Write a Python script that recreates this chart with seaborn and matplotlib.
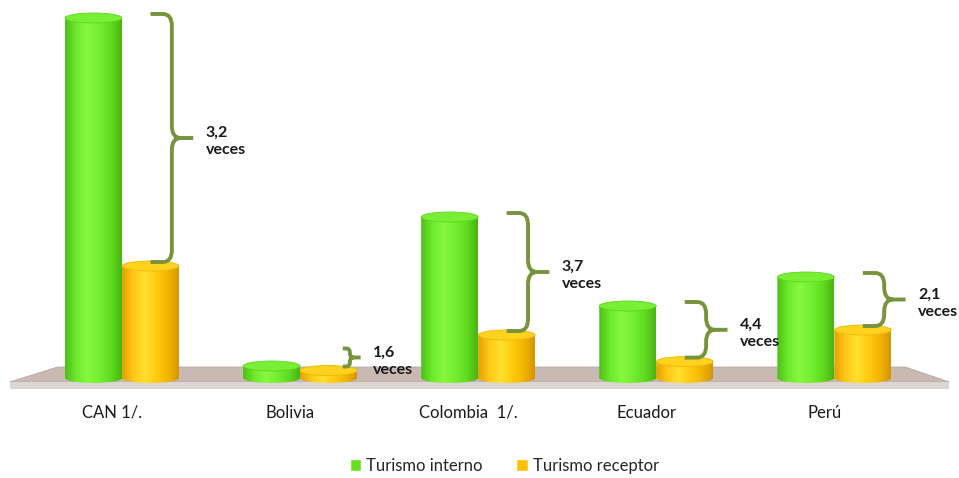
import matplotlib
matplotlib.use("Agg")
import matplotlib.pyplot as plt
import matplotlib.transforms as mtransforms
from matplotlib.patches import Ellipse, Polygon, PathPatch, Patch
from matplotlib.path import Path
from matplotlib.colors import LinearSegmentedColormap, to_hex
import seaborn as sns
import numpy as np
import pandas as pd

# values (arbitrary units, ratios match the labels)
paises = ["CAN 1/.", "Bolivia", "Colombia  1/.", "Ecuador", "Perú"]
interno = [360, 12, 161, 72, 101]
receptor = [112, 7.5, 43, 16.4, 48]
veces = ["3,2", "1,6", "3,7", "4,4", "2,1"]
series = ["Turismo interno", "Turismo receptor"]

verde = "#66e01e"
naranja = "#ffc000"
llave = "#77933C"

df = pd.DataFrame({
    "pais": paises * 2,
    "valor": interno + receptor,
    "serie": [series[0]] * len(paises) + [series[1]] * len(paises),
})

sns.set_style("white")
plt.rcParams["font.family"] = ["Lato", "DejaVu Sans"]

fig = plt.figure(figsize=(9.59, 4.78), dpi=100)
ax = fig.add_axes([0, 1 - 392 / 478, 1, 392 / 478])

sns.barplot(data=df, x="pais", y="valor", hue="serie", palette=[verde, naranja],
            width=0.64, saturation=1, legend=False, ax=ax, zorder=3)
bars = list(ax.patches)

ax.set_ylim(-14, 378)
ax.set_xlim(-0.685, 4.70)
sns.despine(ax=ax, left=True, bottom=True)
ax.set_yticks([])
ax.set_xlabel("")
ax.set_ylabel("")
ax.tick_params(axis="x", length=0, pad=9, labelsize=12, colors="#1a1a1a")
shift = mtransforms.ScaledTranslation(-10 / 100, 0, fig.dpi_scale_trans)
for lab in ax.get_xticklabels():
    lab.set_transform(lab.get_transform() + shift)

# floor (top face + thin front face)
piso = mtransforms.blended_transform_factory(ax.transAxes, ax.transData)
ax.add_patch(Polygon([(0.06, 11), (0.944, 11), (0.99, -4), (0.01, -4)],
                     closed=True, transform=piso, facecolor="#C8B9B3",
                     edgecolor="#B8A9A3", lw=0.6, zorder=1))
ax.add_patch(Polygon([(0.01, -4), (0.99, -4), (0.99, -11), (0.01, -11)],
                     closed=True, transform=piso, facecolor="#DCD6D3",
                     edgecolor="none", zorder=1))

# cylinder look
gradientes = {
    verde: (LinearSegmentedColormap.from_list(
        "v", ["#4CBE18", "#6EEA2C", "#86F840", "#74EE30", "#62DC20", "#48B412"]), "#78EE34"),
    naranja: (LinearSegmentedColormap.from_list(
        "n", ["#E0A200", "#FFC818", "#FFE030", "#FFCC10", "#F4B600", "#D49400"]), "#FFD21E"),
}
eh = 10  # ellipse height in data units
grad = np.linspace(0, 1, 256).reshape(1, -1)
for bar in bars:
    x, w, h = bar.get_x(), bar.get_width(), bar.get_height()
    col = to_hex(bar.get_facecolor()).lower()
    cmap, tapa = gradientes[col]
    arc = Path.arc(180, 360)
    av = arc.vertices * [w / 2, eh / 2] + [x + w / 2, 0]
    verts = [(x, h), (x, 0)] + list(av[1:]) + [(x + w, h), (x, h)]
    codes = [Path.MOVETO, Path.LINETO] + list(arc.codes[1:]) + [Path.LINETO, Path.CLOSEPOLY]
    body = PathPatch(Path(verts, codes), facecolor="none", edgecolor="none", zorder=4)
    ax.add_patch(body)
    im = ax.imshow(grad, cmap=cmap, aspect="auto", extent=(x, x + w, -eh, h),
                   zorder=4, interpolation="bicubic")
    im.set_clip_path(body)
    ax.add_patch(Ellipse((x + w / 2, h), w, eh, facecolor=tapa,
                         edgecolor=cmap(0.1), lw=0.6, zorder=5))
    bar.set_visible(False)

ax.set_xlim(-0.685, 4.70)
ax.set_ylim(-14, 378)

# braces
n = len(paises)
for i in range(n):
    g, o = bars[i], bars[i + n]
    ytop = g.get_height() + 4
    ybot = o.get_height() + 4
    xc = o.get_x() + o.get_width() / 2
    x0 = xc
    if ytop - ybot < 20:
        ytop = ybot + 18
        x0 = xc + 0.08
    xv, xt = x0 + 0.12, x0 + 0.24
    if ytop - ybot < 20:
        xv, xt = x0 + 0.04, x0 + 0.1
    ym = (ytop + ybot) / 2
    r = min(12, (ytop - ybot) / 4)
    rx = min(0.05, (xv - x0) / 2)
    verts = [(x0, ytop), (xv - rx, ytop), (xv, ytop), (xv, ytop - r),
             (xv, ym + r), (xv, ym), (xv + rx, ym), (xt, ym),
             (xv + rx, ym), (xv, ym), (xv, ym - r),
             (xv, ybot + r), (xv, ybot), (xv - rx, ybot), (x0, ybot)]
    codes = [Path.MOVETO, Path.LINETO, Path.CURVE3, Path.CURVE3,
             Path.LINETO, Path.CURVE3, Path.CURVE3, Path.LINETO,
             Path.MOVETO, Path.CURVE3, Path.CURVE3,
             Path.LINETO, Path.CURVE3, Path.CURVE3, Path.LINETO]
    ax.add_patch(PathPatch(Path(verts, codes), facecolor="none", edgecolor=llave,
                           lw=2.8, capstyle="butt", joinstyle="round", zorder=6))
    ax.text(xt + 0.07, ym + 12, f"{veces[i]}\nveces", ha="left", va="top",
            fontsize=11.5, fontweight="bold", color="#1a1a1a",
            linespacing=1.3, zorder=7)

fig.legend(handles=[Patch(facecolor=verde, label=series[0]),
                    Patch(facecolor=naranja, label=series[1])],
           loc="center", bbox_to_anchor=(0.526, 1 - 466 / 478), ncol=2,
           frameon=False, fontsize=12, handlelength=0.7, handleheight=0.7,
           handletextpad=0.3, columnspacing=2.0)

fig.savefig("out.png", dpi=100)
